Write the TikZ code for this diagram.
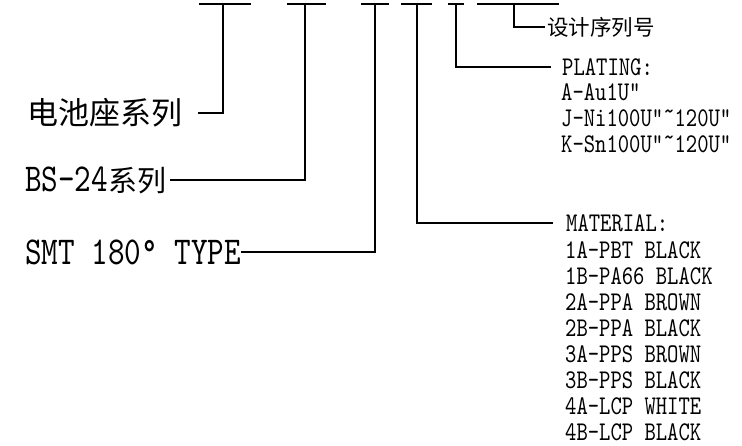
\documentclass[tikz,border=0pt]{standalone}
\usepackage{fontspec}
\newfontfamily\cjk{Noto Sans CJK SC}
\newfontfamily\lat{lmmono10-regular.otf}[FakeStretch=0.8]
\tikzset{
  ln/.style={line width=1.8pt},
  lbl/.style={inner ysep=0pt, inner xsep=0pt, anchor=west},
  bigcjk/.style={lbl, font=\fontsize{31}{33}\selectfont\cjk},
  biglat/.style={lbl, font=\fontsize{39.5}{41}\selectfont\lat},
  small/.style={lbl, font=\fontsize{27}{28}\selectfont\lat},
  smallcjk/.style={lbl, font=\fontsize{21.5}{23}\selectfont\cjk},
}
\begin{document}
\begin{tikzpicture}[x=1pt,y=-1pt]
\useasboundingbox (0,0) rectangle (742,446);
% top placeholder bars
\draw[ln] (199,4) -- (251,4);
\draw[ln] (287,4) -- (326,4);
\draw[ln] (361,4) -- (389,4);
\draw[ln] (401,4) -- (432,4);
\draw[ln] (448,4) -- (464,4);
\draw[ln] (477,4) -- (559,4);
\coordinate (b1) at (223,4);
\coordinate (b2) at (305,4);
\coordinate (b3) at (375,4);
\coordinate (b4) at (417,4);
\coordinate (b5) at (456,4);
\coordinate (b6) at (514,4);
% left labels
\node[bigcjk] (t1) at (27,113) {电池座系列};
\node[biglat] (t2) at (25,180) {BS-24{\fontsize{29}{30}\selectfont\cjk 系列}};
\node[biglat] (t3) at (25,252) {SMT 180° TYPE};
\draw[ln] ([xshift=16pt]t1.east) -| (b1);
\draw[ln] ([xshift=4pt]t2.east) -| (b2);
\draw[ln] (t3.east) -| (b3);
% right labels
\node[smallcjk, inner xsep=2pt] (sn) at (545,27) {设计序列号};
\draw[ln] (b6) |- (sn.west);
\node[small, inner xsep=11pt] (pl) at (551,67) {PLATING:};
\node[small] (p1) at (561,92) {A-Au1U"};
\node[small] (p2) at (561,118) {J-Ni100U"˜120U"};
\node[small] (p3) at (561,144) {K-Sn100U"˜120U"};
\draw[ln] (b5) |- (pl.west);
\node[small, inner xsep=13pt] (ma) at (553,223) {MATERIAL:};
\node[small] (m1) at (565,250) {1A-PBT BLACK};
\node[small] (m2) at (565,276) {1B-PA66 BLACK};
\node[small] (m3) at (565,302) {2A-PPA BROWN};
\node[small] (m4) at (565,328) {2B-PPA BLACK};
\node[small] (m5) at (565,354) {3A-PPS BROWN};
\node[small] (m6) at (565,380) {3B-PPS BLACK};
\node[small] (m7) at (565,406) {4A-LCP WHITE};
\node[small] (m8) at (565,432) {4B-LCP BLACK};
\draw[ln] (b4) |- (ma.west);
\end{tikzpicture}
\end{document}
